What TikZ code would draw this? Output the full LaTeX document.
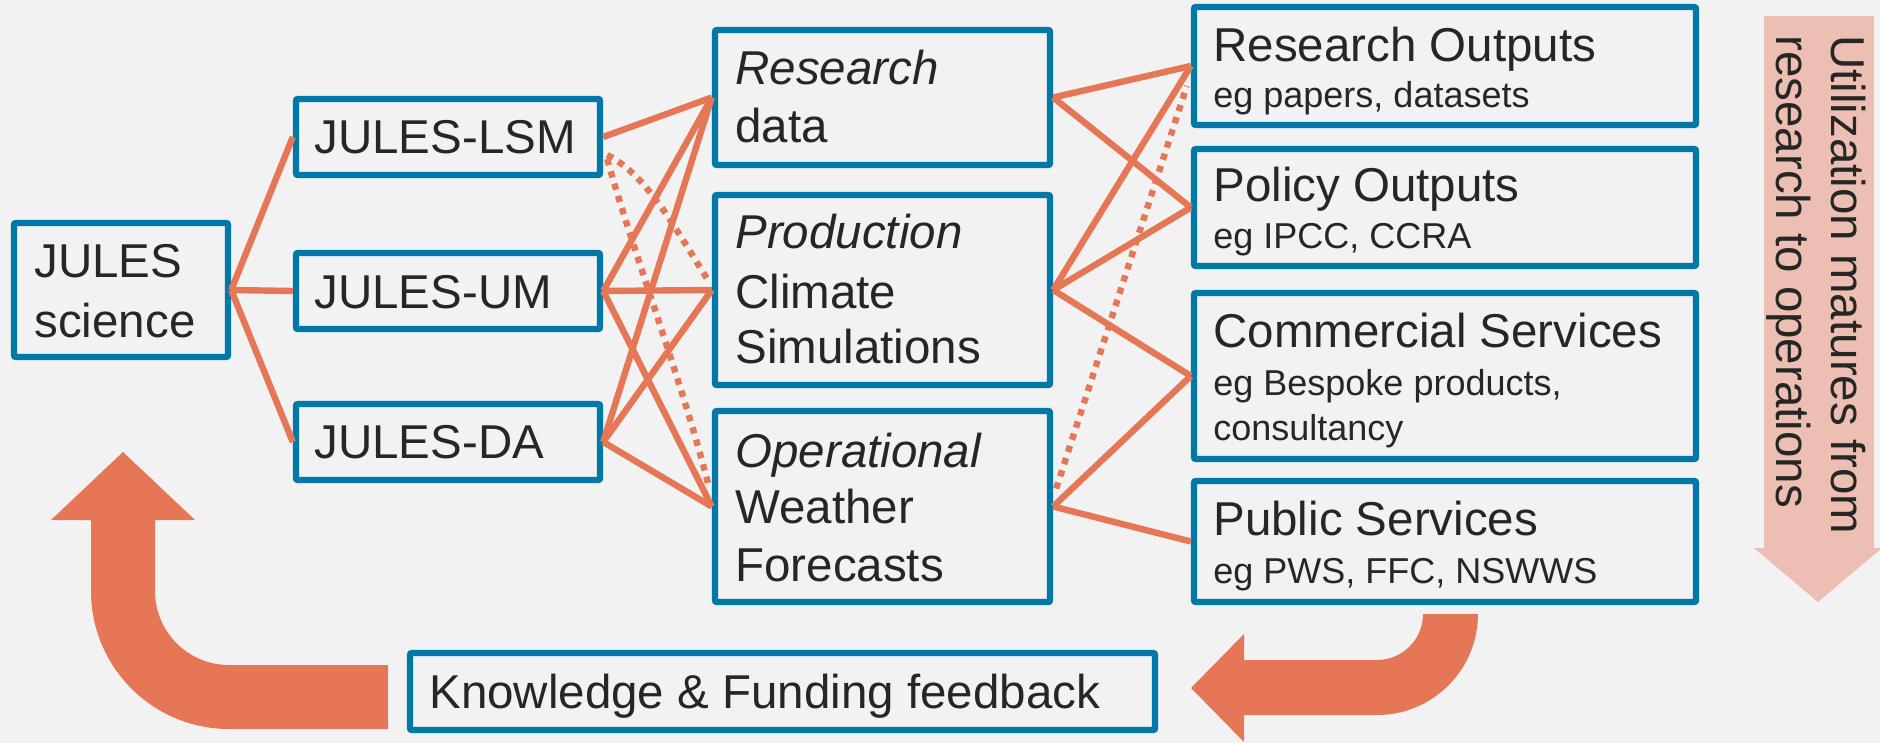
\documentclass[tikz,border=0pt]{standalone}
\usepackage{fontspec}
\setmainfont{Liberation Sans}
\usetikzlibrary{calc}
\definecolor{bgc}{HTML}{F2F2F2}
\definecolor{boxblue}{HTML}{0079A9}
\definecolor{lineor}{HTML}{E57656}
\definecolor{salmon}{HTML}{EDBFB2}
\definecolor{txt}{HTML}{262626}
\begin{document}
\begin{tikzpicture}[x=0.5pt,y=-0.5pt,
  box/.style={draw=boxblue,line width=3.2pt,rounded corners=1pt,inner sep=0pt,rectangle},
  lbl/.style={anchor=base west,inner sep=0pt,text=txt,font=\fontsize{23.75pt}{28pt}\selectfont},
  sublbl/.style={anchor=base west,inner sep=0pt,text=txt,font=\fontsize{18pt}{22pt}\selectfont},
  link/.style={draw=lineor,line width=3.2pt},
  dotlink/.style={draw=lineor,line width=3.2pt,dash pattern=on 3.2pt off 3.2pt},
  bigarrow/.style={fill=lineor,draw=none},
]
\useasboundingbox (0,0) rectangle (1880,743);
\fill[bgc] (0,0) rectangle (1880,743);
\clip (0,0) rectangle (1880,743);

% boxes
\node[box,minimum width=107pt,minimum height=67pt] (sci) at (121,290) {};
\node[box,minimum width=152pt,minimum height=38pt] (lsm) at (448,137) {};
\node[box,minimum width=152pt,minimum height=38pt] (um) at (448,291) {};
\node[box,minimum width=152pt,minimum height=38pt] (da) at (448,442) {};
\node[box,minimum width=167.5pt,minimum height=67.5pt] (rd) at (882.5,97.5) {};
\node[box,minimum width=167.5pt,minimum height=95pt] (prod) at (882.5,290) {};
\node[box,minimum width=167.5pt,minimum height=95.5pt] (oper) at (882.5,506.5) {};
\node[box,minimum width=251pt,minimum height=59pt] (ro) at (1445,66) {};
\node[box,minimum width=251pt,minimum height=58.5pt] (pol) at (1445,207.5) {};
\node[box,minimum width=251pt,minimum height=83pt] (com) at (1445,376) {};
\node[box,minimum width=251pt,minimum height=60.5pt] (pub) at (1445,541.5) {};
\node[box,minimum width=372.5pt,minimum height=38.5pt] (know) at (782.5,691.5) {};

% texts
\node[lbl] (t1) at (34,278) {JULES};
\node[lbl] (t2) at (34,337) {science};
\node[lbl] (t3) at (314,154) {JULES-LSM};
\node[lbl] (t4) at (314,308) {JULES-UM};
\node[lbl] (t5) at (314,458) {JULES-DA};
\node[lbl] (t6) at (735,85) {\itshape Research};
\node[lbl] (t7) at (735,143) {data};
\node[lbl] (t8) at (735,249) {\itshape Production};
\node[lbl] (t9) at (735,308) {Climate};
\node[lbl] (t10) at (735,364) {Simulations};
\node[lbl] (t11) at (735,467) {\itshape Operational};
\node[lbl] (t12) at (735,523) {Weather};
\node[lbl] (t13) at (735,581) {Forecasts};
\node[lbl] (t14) at (1213,62) {Research Outputs};
\node[sublbl] (t15) at (1213,108) {eg papers, datasets};
\node[lbl] (t16) at (1213,202) {Policy Outputs};
\node[sublbl] (t17) at (1213,249) {eg IPCC, CCRA};
\node[lbl] (t18) at (1213,348) {Commercial Services};
\node[sublbl] (t19) at (1213,395) {eg Bespoke products,};
\node[sublbl] (t20) at (1213,440) {consultancy};
\node[lbl] (t21) at (1213,535) {Public Services};
\node[sublbl] (t22) at (1213,583) {eg PWS, FFC, NSWWS};
\node[lbl] (t23) at (429,708) {Knowledge \& Funding feedback};

% utilization arrow
\fill[salmon] (1764,16) -- (1874,16) -- (1874,548) -- (1882,548) -- (1818,602) -- (1754,548) -- (1764,548) -- cycle;
\node[lbl,rotate=-90] (u1) at (1831,35) {Utilization matures from};
\node[lbl,rotate=-90] (u2) at (1776,35) {research to operations};

% big feedback arrows
\fill[bigarrow] (388,665) -- (229,665) arc (270:180:37pt) -- (155,520) -- (195,520) -- (123,452)
  -- (51,520) -- (91,520) -- (91,591) arc (180:270:69pt) -- (388,729) -- cycle;
\fill[bigarrow] (1423,614) -- (1478,614) arc (0:-90:50.5pt) -- (1244,715) -- (1244,742)
  -- (1191,688) -- (1244,634) -- (1244,660) -- (1377,660) arc (-90:0:23pt) -- cycle;

% links left
\draw[link] (sci.east) -- (lsm.west);
\draw[link] (sci.east) -- (um.west);
\draw[link] (sci.east) -- (da.west);

\draw[link] (lsm.east) -- (rd.west);
\draw[link] (um.east) -- (rd.west);
\draw[link] (um.east) -- (prod.west);
\draw[link] (um.east) -- (oper.west);
\draw[link] (da.east) -- (rd.west);
\draw[link] (da.east) -- (prod.west);
\draw[link] (da.east) -- (oper.west);
\draw[dotlink] ($(lsm.east)+(4,18)$) .. controls +(40,20) and +(-35,-55) .. ($(prod.west)+(-2,-7)$);
\draw[dotlink] ($(lsm.east)+(4,22)$) .. controls +(25,90) and +(-25,-100) .. ($(oper.west)+(-3,-20)$);

% links right
\draw[link] (rd.east) -- (ro.west);
\draw[link] (rd.east) -- (pol.west);
\draw[link] (prod.east) -- (ro.west);
\draw[link] (prod.east) -- (pol.west);
\draw[link] (prod.east) -- (com.west);
\draw[link] (oper.east) -- (com.west);
\draw[link] (oper.east) -- (pub.west);
\draw[dotlink] ($(oper.east)+(3,-18)$) -- ($(ro.west)+(-4,20)$);
\end{tikzpicture}
\end{document}
